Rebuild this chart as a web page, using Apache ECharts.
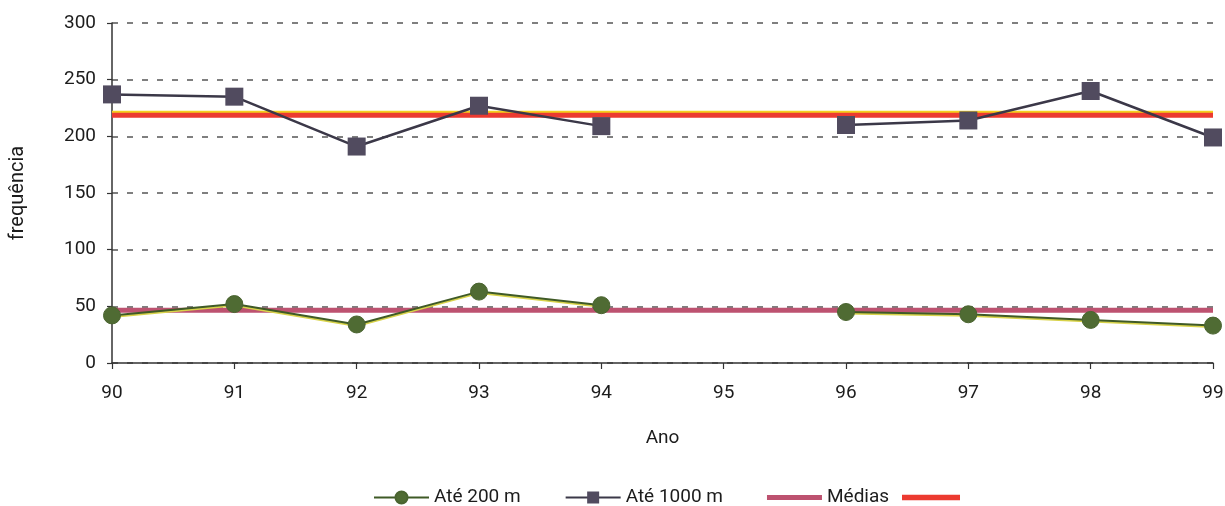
<!DOCTYPE html>
<html>
<head>
<meta charset="utf-8">
<script src="https://cdn.jsdelivr.net/npm/echarts@6/dist/echarts.min.js"></script>
<style>
html,body{margin:0;padding:0;background:#fff;}
#chart{width:1225px;height:506px;}
</style>
</head>
<body>
<div id="chart"></div>
<script>
const anos = ['90','91','92','93','94','95','96','97','98','99'];
const ate200 = [42, 52, 34, 63, 51, null, 45, 43, 38, 33];
const ate1000 = [237, 235, 191, 227, 209, null, 210, 214, 240, 199];
const media200 = [46.5, 46.5, 46.5, 46.5, 46.5, 46.5, 46.5, 46.5, 46.5, 46.5];
const media1000 = [218.5, 218.5, 218.5, 218.5, 218.5, 218.5, 218.5, 218.5, 218.5, 218.5];
const yTicks = [0, 50, 100, 150, 200, 250, 300];

const numFont = 'Roboto, "DejaVu Sans", sans-serif';
const txtFont = 'Roboto, "DejaVu Sans", sans-serif';
const barIcon = 'path://M0,0 L54,0 L54,5 L0,5 Z';
const legendText = {fontFamily: txtFont, fontSize: 19, color: '#1c1c1c'};
const chart = echarts.init(document.getElementById('chart'));
chart.setOption({
  animation: false,
  backgroundColor: '#ffffff',
  grid: {left: 112, right: 12, top: 23, bottom: 143, containLabel: false, outerBoundsMode: 'none'},
  legend: [
    {
      top: 483,
      left: 368,
      itemWidth: 55,
      itemHeight: 15,
      itemGap: 44,
      textStyle: legendText,
      data: [
        {name: 'Até 200 m'},
        {name: 'Até 1000 m'},
        {name: 'Médias', icon: barIcon}
      ]
    },
    {
      top: 483,
      left: 897,
      itemWidth: 58,
      itemHeight: 15,
      textStyle: legendText,
      data: [{name: ' ', icon: barIcon}]
    }
  ],
  xAxis: {
    type: 'category',
    data: anos,
    boundaryGap: false,
    name: 'Ano',
    nameLocation: 'middle',
    nameGap: 66,
    nameTextStyle: {fontFamily: txtFont, fontSize: 19, color: '#1c1c1c'},
    axisLine: {lineStyle: {color: '#333', width: 1.5}},
    axisTick: {show: true, length: 6, lineStyle: {color: '#333', width: 1.2}},
    axisLabel: {fontFamily: numFont, fontSize: 19, color: '#1c1c1c', margin: 21},
    splitLine: {show: false}
  },
  yAxis: {
    type: 'value',
    min: yTicks[0],
    max: yTicks[yTicks.length - 1],
    interval: 50,
    name: 'frequência',
    nameLocation: 'middle',
    nameGap: 84,
    nameRotate: 90,
    nameTextStyle: {fontFamily: txtFont, fontSize: 20, color: '#1c1c1c'},
    axisLine: {show: true, lineStyle: {color: '#333', width: 1.5}},
    axisTick: {show: true, length: 5, lineStyle: {color: '#333', width: 1.2}},
    axisLabel: {fontFamily: numFont, fontSize: 19, color: '#1c1c1c', margin: 16},
    splitLine: {show: true, lineStyle: {color: '#555', type: [6, 9], width: 1.5}}
  },
  series: [
    {
      name: 'Até 200 m', type: 'line', data: ate200, z: 5,
      symbol: 'circle', symbolSize: 17,
      connectNulls: false,
      itemStyle: {color: '#4f6b33', borderColor: '#4a6430', borderWidth: 1},
      lineStyle: {color: '#3f5a26', width: 2, shadowColor: '#d8d34a', shadowOffsetY: 1.5, shadowBlur: 0}
    },
    {
      name: 'Até 1000 m', type: 'line', data: ate1000, z: 5,
      symbol: 'rect', symbolSize: 18,
      connectNulls: false,
      itemStyle: {color: '#514b5f'},
      lineStyle: {color: '#3b3848', width: 2.5}
    },
    {
      name: 'Médias', type: 'line', data: media200, z: 3,
      symbol: 'none',
      itemStyle: {color: '#bd5270'},
      lineStyle: {color: '#bd5270', width: 5}
    },
    {
      name: ' ', type: 'line', data: media1000, z: 3,
      symbol: 'none',
      itemStyle: {color: '#ec3a30'},
      lineStyle: {color: '#ec3a30', width: 5, shadowColor: '#f4cf1e', shadowOffsetY: -2, shadowBlur: 0}
    }
  ]
});
</script>
</body>
</html>
